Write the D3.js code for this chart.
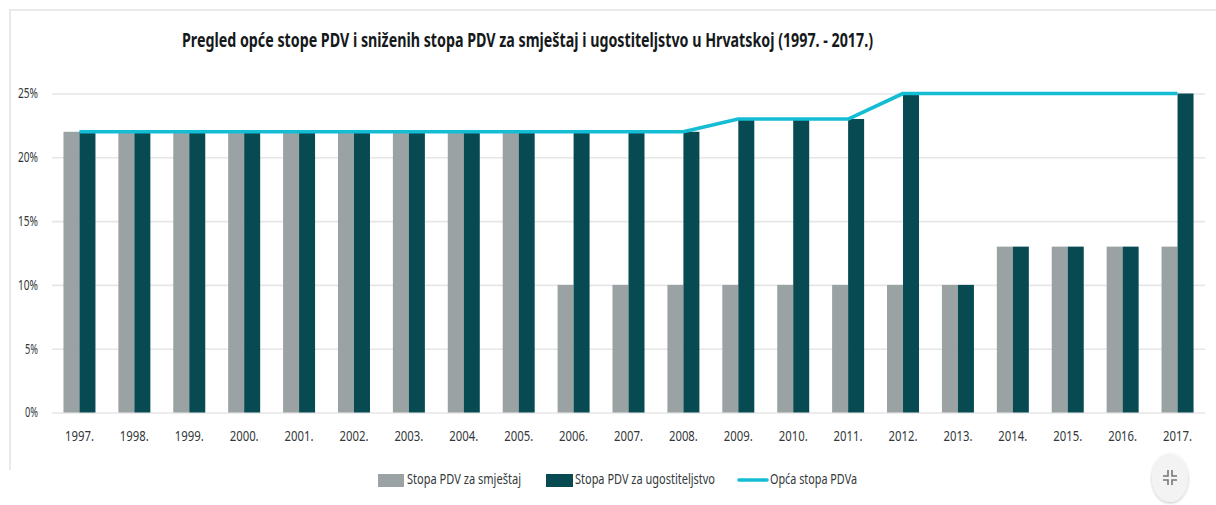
<!DOCTYPE html>
<html>
<head>
<meta charset="utf-8">
<script src="https://cdn.jsdelivr.net/npm/d3@7"></script>
<style>
  html, body { margin: 0; padding: 0; background: #fff; }
  svg { display: block; }
  text { font-family: "Noto Sans", "Open Sans", sans-serif; fill: #33383a; }
</style>
</head>
<body>
<svg id="chart" width="1216" height="505"></svg>
<script>
var years = ["1997.","1998.","1999.","2000.","2001.","2002.","2003.","2004.","2005.","2006.","2007.","2008.","2009.","2010.","2011.","2012.","2013.","2014.","2015.","2016.","2017."];
var smjestaj = [22,22,22,22,22,22,22,22,22,10,10,10,10,10,10,10,10,13,13,13,13];
var ugostiteljstvo = [22,22,22,22,22,22,22,22,22,22,22,22,23,23,23,25,10,13,13,13,25];
var opcaStopa = [22,22,22,22,22,22,22,22,22,22,22,22,23,23,23,25,25,25,25,25,25];
var yTicks = [0,5,10,15,20,25];
var legendNames = ["Stopa PDV za smještaj","Stopa PDV za ugostiteljstvo","Opća stopa PDVa"];
var title = "Pregled opće stope PDV i sniženih stopa PDV za smještaj i ugostiteljstvo u Hrvatskoj (1997. - 2017.)";

var colGrey = "#9ba2a4", colDark = "#074a52", colLine = "#14bdd3", colGrid = "#e6e6e6";

var svg = d3.select("#chart");

var x = d3.scaleBand().domain(years).range([52, 1205]),
    y = d3.scaleLinear().domain([0, 25]).range([412.5, 93.5]);
var barW = 16;

// outer frame, only top and left are visible in the screenshot
svg.append("path")
    .attr("d", "M10,470V10H1216")
    .attr("fill", "none")
    .attr("stroke", "#e9e9e9")
    .attr("stroke-width", 2);

svg.append("text")
    .attr("x", 182).attr("y", 47)
    .attr("textLength", 691)
    .attr("lengthAdjust", "spacingAndGlyphs")
    .style("font-size", "20px")
    .style("font-weight", 700)
    .style("fill", "#15191b")
    .text(title);

// grid + y labels
var yAxis = svg.append("g")
    .attr("transform", "translate(52,0)")
    .call(d3.axisLeft(y).tickValues(yTicks).tickSize(-1153).tickPadding(14).tickFormat(function(d) { return d + "%"; }));
yAxis.select(".domain").remove();
yAxis.selectAll("line").attr("stroke", colGrid).attr("stroke-width", 1.6);
yAxis.selectAll("text")
    .attr("textLength", function(d) { return d < 10 ? 13 : 20; })
    .attr("lengthAdjust", "spacingAndGlyphs")
    .style("font-size", "14px")
    .style("font-family", null);

// x labels
var xAxis = svg.append("g")
    .attr("transform", "translate(0,412.5)")
    .call(d3.axisBottom(x).tickSize(0).tickPadding(19));
xAxis.select(".domain").remove();
xAxis.selectAll("text")
    .attr("textLength", 29)
    .attr("lengthAdjust", "spacingAndGlyphs")
    .style("font-size", "14px")
    .style("font-family", null);

function bars(values, color, offset) {
  svg.append("g").selectAll("rect")
    .data(values)
    .enter().append("rect")
      .attr("x", function(d,i) { return x(years[i]) + x.bandwidth()/2 + offset; })
      .attr("y", function(d) { return y(d); })
      .attr("width", barW)
      .attr("height", function(d) { return y(0) - y(d); })
      .style("fill", color);
}
bars(smjestaj, colGrey, -barW);
bars(ugostiteljstvo, colDark, 0);

var line = d3.line()
    .x(function(d,i) { return x(years[i]) + x.bandwidth()/2; })
    .y(function(d) { return y(d); });

svg.append("path")
    .datum(opcaStopa)
    .attr("d", line)
    .attr("fill", "none")
    .attr("stroke", colLine)
    .attr("stroke-width", 3.6)
    .attr("stroke-linejoin", "round");

// legend
var lg = svg.append("g");
lg.append("rect").attr("x", 378).attr("y", 474).attr("width", 26).attr("height", 13).style("fill", colGrey);
lg.append("rect").attr("x", 546).attr("y", 474).attr("width", 27).attr("height", 13).style("fill", colDark);
lg.append("line").attr("x1", 739).attr("x2", 767).attr("y1", 480).attr("y2", 480)
    .attr("stroke", colLine).attr("stroke-width", 3.6).attr("stroke-linecap", "round");

var legX = [407, 575, 770], legW = [114, 140, 87];
lg.selectAll("text")
    .data(legendNames)
    .enter().append("text")
      .attr("x", function(d,i) { return legX[i]; })
      .attr("y", 484)
      .attr("textLength", function(d,i) { return legW[i]; })
      .attr("lengthAdjust", "spacingAndGlyphs")
      .style("font-size", "14px")
      .text(function(d) { return d; });

// exit fullscreen button
var defs = svg.append("defs");
var f = defs.append("filter").attr("id", "sh").attr("x", "-30%").attr("y", "-30%").attr("width", "160%").attr("height", "160%");
f.append("feDropShadow").attr("dx", 0).attr("dy", 1).attr("stdDeviation", 1.5).attr("flood-color", "#000").attr("flood-opacity", 0.25);
var btn = svg.append("g").attr("transform", "translate(1170,478)");
btn.append("ellipse").attr("rx", 18).attr("ry", 24).attr("fill", "#f3f3f3").attr("filter", "url(#sh)");
btn.append("path")
    .attr("d", "M-2,-8V-2H-7 M2,-8V-2H7 M-2,7V2H-7 M2,7V2H7")
    .attr("fill", "none").attr("stroke", "#777").attr("stroke-width", 1.6);
</script>
</body>
</html>
